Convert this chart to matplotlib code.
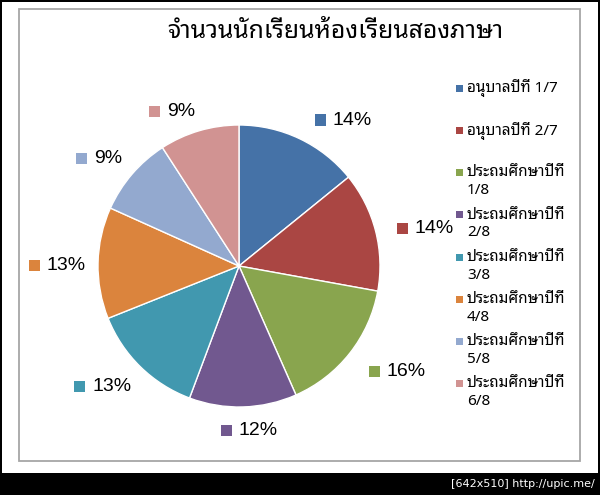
import matplotlib
matplotlib.use('Agg')
import numpy as np
import matplotlib.pyplot as plt
from matplotlib import font_manager
from matplotlib.ft2font import FT2Font
from matplotlib.patches import Rectangle
from matplotlib.offsetbox import AnnotationBbox, HPacker, TextArea, DrawingArea

title = 'จำนวนนักเรียนห้องเรียนสองภาษา'
categories = ['อนุบาลปีที่ 1/7', 'อนุบาลปีที่ 2/7',
              'ประถมศึกษาปีที่ 1/8', 'ประถมศึกษาปีที่ 2/8',
              'ประถมศึกษาปีที่ 3/8', 'ประถมศึกษาปีที่ 4/8',
              'ประถมศึกษาปีที่ 5/8', 'ประถมศึกษาปีที่ 6/8']
students = [31, 30, 34, 27, 29, 28, 20, 20]
colors = ['#4572A7', '#AA4643', '#89A54E', '#71588F',
          '#4198AF', '#DB843D', '#93A9CF', '#D19392']


def find_thai_font():
    # pick any installed font that has Thai glyphs
    prefer = ['tahoma', 'leelawadee', 'noto sans thai', 'loma', 'garuda',
              'sarabun', 'waree', 'umpush', 'kinnari', 'norasi']
    found = {}
    for f in font_manager.fontManager.ttflist:
        try:
            cmap = FT2Font(f.fname).get_charmap()
        except Exception:
            continue
        if 0x0E01 in cmap and 0x0E32 in cmap:
            found.setdefault(f.name, f.fname)
    for p in prefer:
        for name in found:
            if p in name.lower():
                return name
    return sorted(found)[0] if found else None


thai = find_thai_font()
fam = [thai, 'DejaVu Sans'] if thai else ['DejaVu Sans']
plt.rcParams['font.family'] = fam

W, H = 600, 495
fig = plt.figure(figsize=(W / 100, H / 100), dpi=100, facecolor='black')


def fx(px):
    return px / W


def fy(py):
    return 1 - py / H


# white page + grey chart frame
bg = fig.add_axes([fx(2), fy(473), fx(596), 471 / H])
bg.set_facecolor('white')
bg.set_xticks([])
bg.set_yticks([])
for s in bg.spines.values():
    s.set_visible(False)
fig.add_artist(Rectangle((fx(19), fy(461)), fx(561), 452 / H,
                         transform=fig.transFigure, fill=False,
                         edgecolor='#A6A6A6', linewidth=1.3))

fig.text(fx(335), fy(32), title, ha='center', va='center', fontsize=17.8)

# pie
cx, cy, r = 239, 266, 141
ax = fig.add_axes([fx(cx - r), fy(cy + r), 2 * r / W, 2 * r / H])
wedges, _ = ax.pie(students, colors=colors, startangle=90, counterclock=False,
                   radius=1, wedgeprops=dict(edgecolor='white', linewidth=1))
ax.set_xlim(-1, 1)
ax.set_ylim(-1, 1)
ax.axis('off')

# outside-end data labels (marker + percent), nudged like Excel places them
px2pt = 0.72
total = sum(students)
cum = np.cumsum(students) - np.array(students) / 2
for v, c, mid in zip(students, colors, cum):
    ang = 2 * np.pi * mid / total
    sx, sy = np.sin(ang), np.cos(ang)
    x, y = 1.08 * sx, 1.08 * sy
    bx = 0.5 if abs(sx) < 0.25 else (0 if sx > 0 else 1)
    by = 0.5 if abs(sy) < 0.3 else (0 if sy > 0 else 1)
    if bx == 0:
        off = (10, -3 if by == 1 else 0)
    elif bx == 0.5:
        off = (6, -4)
    else:
        off = (-1, 0 if by == 0 else -3)
    da = DrawingArea(8, 8, 0, 0)
    da.add_artist(Rectangle((0, 0), 8, 8, facecolor=c, edgecolor='none'))
    ta = TextArea(f'{round(100 * v / total)}%',
                  textprops=dict(fontsize=14, family=['Liberation Sans']))
    box = HPacker(children=[da, ta], sep=5, pad=0, align='center')
    ab = AnnotationBbox(box, (x, y), xycoords='data',
                        xybox=(off[0] * px2pt, off[1] * px2pt),
                        boxcoords='offset points', box_alignment=(bx, by),
                        frameon=False, pad=0, annotation_clip=False)
    ax.add_artist(ab)

# legend
for i, (name, c) in enumerate(zip(categories, colors)):
    y0 = 88.3 + i * 42.2
    fig.add_artist(Rectangle((fx(456), fy(y0 + 3.5)), 7 / W, 7 / H,
                             transform=fig.transFigure, facecolor=c,
                             edgecolor='none'))
    lines = name.rsplit(' ', 1) if name.startswith('ประถม') else [name]
    for k, line in enumerate(lines):
        fig.text(fx(467), fy(y0 + k * 18), line, ha='left', va='center',
                 fontsize=11)

fig.text(fx(595), fy(484), '[642x510] http://upic.me/', color='white',
         ha='right', va='center', fontsize=8, family=['DejaVu Sans'])

fig.savefig('out.png', dpi=100, facecolor='black')
